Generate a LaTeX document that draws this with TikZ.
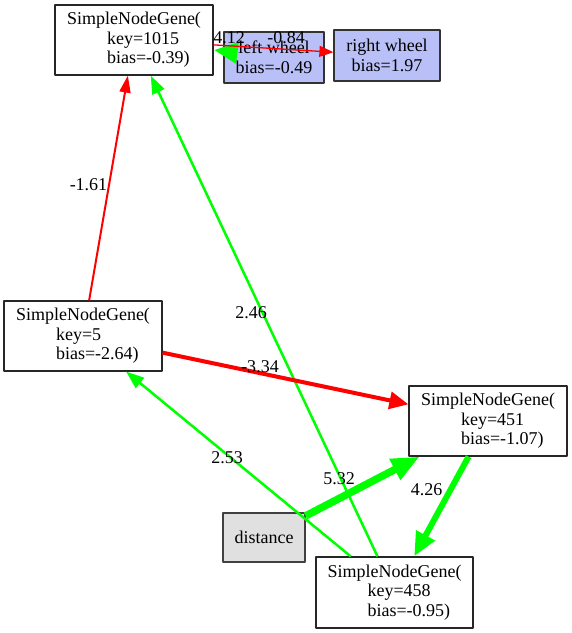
\documentclass[tikz,border=0pt]{standalone}
\usepackage{fontspec}
\setmainfont{Liberation Serif}
\usetikzlibrary{arrows.meta}
\definecolor{wheelblue}{RGB}{185,191,247}
\definecolor{inputgray}{RGB}{224,224,224}
\definecolor{posgreen}{RGB}{0,255,0}
\definecolor{negred}{RGB}{255,0,0}
\newcommand\dotfont{\fontsize{18bp}{19.5bp}\selectfont}
\newcommand\ind{\hspace*{40bp}}
\begin{document}
\begin{tikzpicture}[line join=bevel,
  gene/.style={draw=black!85,line width=1.2bp,fill=white,align=left,inner sep=0pt,
    minimum width=158bp,minimum height=70bp,font=\dotfont},
  wheel/.style={draw=black!80,line width=1.2bp,fill=wheelblue,align=center,inner sep=0pt,
    minimum height=51bp,font=\dotfont},
  sensor/.style={draw=black!75,line width=1.2bp,fill=inputgray,inner sep=0pt,
    minimum width=82bp,minimum height=49bp,font=\dotfont},
  wlabel/.style={inner sep=0pt,font=\dotfont},
  wa/.style={line width=1.3bp,-{Triangle[length=14bp,width=11bp]}},
  wb/.style={line width=2bp,-{Triangle[length=17bp,width=11bp]}},
  wc/.style={line width=2.5bp,-{Triangle[length=18bp,width=13bp]}},
  wd/.style={line width=4bp,-{Triangle[length=19bp,width=17bp]}},
  we/.style={line width=6bp,-{Triangle[length=24bp,width=20bp]}},
  wf/.style={line width=7.5bp,-{Triangle[length=28bp,width=22bp]}},
]
%%
\useasboundingbox (0bp,0bp) rectangle (572bp,633bp);
\node (node_1015) at (134bp,593bp) [gene] {SimpleNodeGene(\\\ind key=1015\\\ind bias=-0.39)};
  \node (left_wheel) at (274bp,575.5bp) [wheel,minimum width=100bp] {left wheel\\bias=-0.49};
  \node (right_wheel) at (387bp,577.5bp) [wheel,minimum width=106bp] {right wheel\\bias=1.97};
  \node (node_5) at (83bp,297bp) [gene] {SimpleNodeGene(\\\ind key=5\\\ind bias=-2.64)};
  \node (node_451) at (488bp,212bp) [gene] {SimpleNodeGene(\\\ind key=451\\\ind bias=-1.07)};
  \node (distance) at (264bp,95.5bp) [sensor] {distance};
  \node (node_458) at (394.5bp,40.5bp) [gene,minimum width=157bp,minimum height=71bp] {SimpleNodeGene(\\\ind key=458\\\ind bias=-0.95)};
%
  \draw [negred,wb] (node_5) -- (node_1015);
  \draw [posgreen,wc] (node_458) -- (node_1015);
  \draw [posgreen,we] (left_wheel) -- (node_1015);
  \draw [negred,wa] (node_1015) -- (right_wheel);
  \draw [negred,wd] (node_5) -- (node_451);
  \draw [posgreen,wc] (node_458) -- (node_5);
  \draw [posgreen,wf] (distance) -- (node_451);
  \draw [posgreen,we] (node_451) -- (node_458);
%
  \node (w_5_1015) at (88.5bp,448bp) [wlabel] {-1.61};
  \node (w_458_1015) at (251bp,320bp) [wlabel] {2.46};
  \node (w_lw_1015) at (229bp,595bp) [wlabel] {4.12};
  \node (w_1015_rw) at (286bp,595bp) [wlabel] {-0.84};
  \node (w_5_451) at (260bp,266bp) [wlabel] {-3.34};
  \node (w_458_5) at (227bp,175bp) [wlabel] {2.53};
  \node (w_dist_451) at (339bp,154bp) [wlabel] {5.32};
  \node (w_451_458) at (426.5bp,143bp) [wlabel] {4.26};
%
\end{tikzpicture}
\end{document}
